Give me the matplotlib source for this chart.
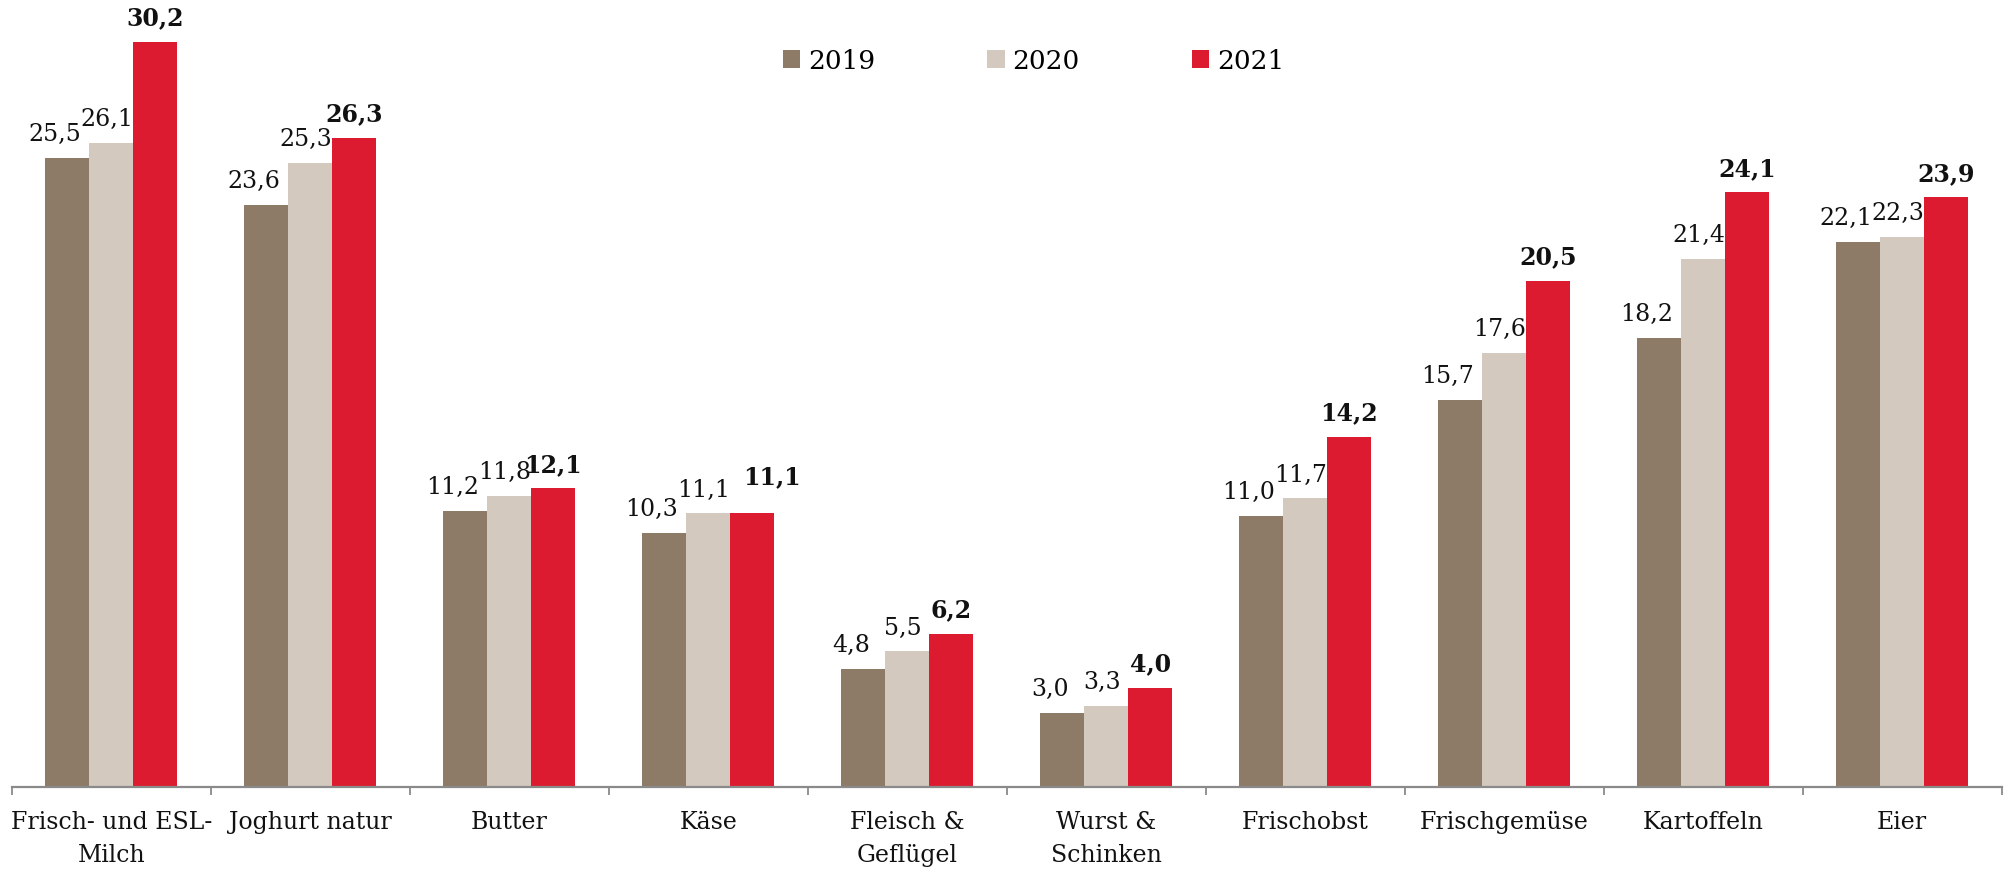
import matplotlib
matplotlib.use("Agg")
import matplotlib.pyplot as plt
import numpy as np
from matplotlib.patches import Patch

# Daten
kategorien = ["Frisch- und ESL-\nMilch", "Joghurt natur", "Butter", "Käse",
              "Fleisch &\nGeflügel", "Wurst &\nSchinken", "Frischobst",
              "Frischgemüse", "Kartoffeln", "Eier"]
jahre = ["2019", "2020", "2021"]
werte_2019 = [25.5, 23.6, 11.2, 10.3, 4.8, 3.0, 11.0, 15.7, 18.2, 22.1]
werte_2020 = [26.1, 25.3, 11.8, 11.1, 5.5, 3.3, 11.7, 17.6, 21.4, 22.3]
werte_2021 = [30.2, 26.3, 12.1, 11.1, 6.2, 4.0, 14.2, 20.5, 24.1, 23.9]

farben = ["#8e7b67", "#d3c9bf", "#dc1b30"]
schrift = "DejaVu Serif"
plt.rcParams['font.family'] = [schrift]

fig = plt.figure(figsize=(20.05, 8.72), dpi=100)
ax = fig.add_axes([0.00584, 0.0975, 0.9925, 0.9025])

x = np.arange(len(kategorien))
breite = 0.221
serien = [werte_2019, werte_2020, werte_2021]

for i, (werte, farbe) in enumerate(zip(serien, farben)):
    pos = x + (i - 1) * breite
    ax.bar(pos, werte, width=breite, color=farbe, zorder=2)
    # Datenbeschriftung, 2021 fett
    for k, (xp, v) in enumerate(zip(pos, werte)):
        dx, dy = [-9, -3, 0][i], 12
        if i == 2 and k == 3:
            # wie im Original: Label bei Käse nach rechts oben versetzt
            dx, dy = 14, 21
        ax.annotate(f"{v:.1f}".replace(".", ","), (xp, v),
                    xytext=(dx, dy), textcoords="offset points",
                    ha="center", va="baseline", fontsize=17,
                    fontweight="bold" if i == 2 else "normal",
                    color="#111111")

ax.set_xlim(-0.5, len(kategorien) - 0.5)
ax.set_ylim(0, 31.9)

# Achsen
for s in ["top", "right", "left"]:
    ax.spines[s].set_visible(False)
ax.spines["bottom"].set_color("#8a8a8a")
ax.spines["bottom"].set_linewidth(1.6)
ax.spines["bottom"].set_zorder(3)
ax.set_yticks([])

ax.set_xticks(x)
ax.set_xticklabels(kategorien, fontsize=17, linespacing=1.6)
ax.tick_params(axis="x", which="major", length=0, pad=17, colors="#111111")
ax.set_xticks(np.arange(-0.5, len(kategorien), 1), minor=True)
ax.tick_params(axis="x", which="minor", length=6, width=1.3, color="#8a8a8a")

# Legende
handles = [Patch(facecolor=f, edgecolor="none") for f in farben]
fig.legend(handles, jahre, loc="center", bbox_to_anchor=(0.5155, 0.93),
           ncol=3, frameon=False, fontsize=19, handlelength=0.65,
           handleheight=0.65, handletextpad=0.3, columnspacing=4.25,
           borderpad=0)

fig.savefig("out.png", dpi=100)
